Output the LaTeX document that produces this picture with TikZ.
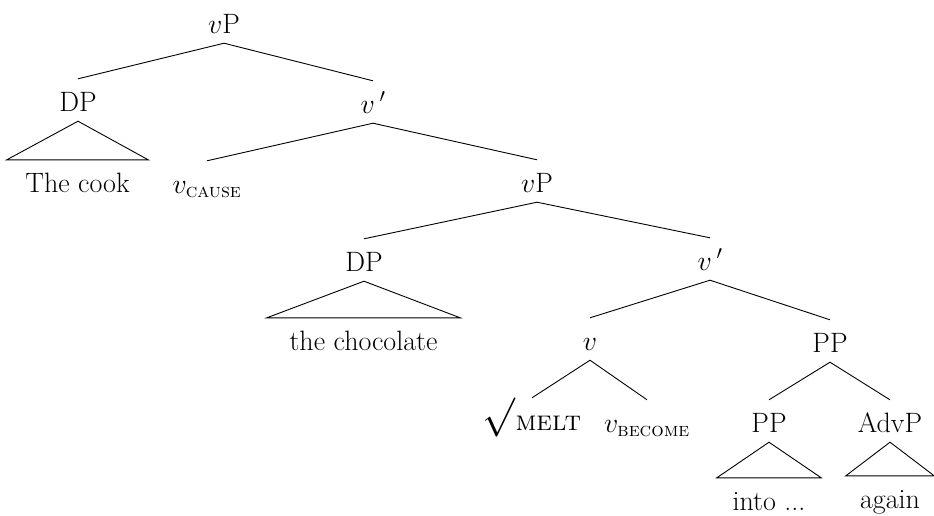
\RequirePackage{fix-cm}
\documentclass[tikz,border=0pt]{standalone}
\usepackage{amsmath}
\begin{document}
\begin{tikzpicture}[x=1pt,y=-1pt,
  lab/.style={font=\fontsize{28}{34}\selectfont, anchor=base, inner xsep=2pt, inner ysep=4pt, text height=28pt, text depth=6pt},
  edge/.style={line width=0.9pt, line join=miter}]
\useasboundingbox (0,0) rectangle (934,515);
% nodes
\node[lab] (vP) at (224,33) {$v$P};
\node[lab] (DP) at (78,111) {DP};
\node[lab] (vbar) at (373,113) {$v\,'$};
\node[lab, minimum width=141pt] (cook) at (77.5,192) {The cook};
\node[lab] (vcause) at (207,193) {$v_{\text{\textsc{cause}}}$};
\node[lab] (vP2) at (537,192) {$v$P};
\node[lab] (DP2) at (364,271) {DP};
\node[lab] (vbar2) at (710,270) {$v\,'$};
\node[lab, minimum width=193pt] (choc) at (363.5,350) {the chocolate};
\node[lab] (v) at (590,350) {$v$};
\node[lab] (PP) at (830,352) {PP};
\node[lab] (melt) at (532,430) {\raisebox{3pt}{\scalebox{1.4}{$\surd$}}\textsc{melt}};
\node[lab] (vbec) at (647,432) {$v_{\text{\textsc{become}}}$};
\node[lab] (PP2) at (769,432) {PP};
\node[lab] (AdvP) at (890,432) {AdvP};
\node[lab, minimum width=104pt] (into) at (769,510) {into ...};
\node[lab, minimum width=88pt] (again) at (890,508) {again};
% edges
\draw[edge] (DP.north) -- (vP.south) -- (vbar.north);
\draw[edge] (vcause.north) -- (vbar.south) -- (vP2.north);
\draw[edge] (DP2.north) -- (vP2.south) -- (vbar2.north);
\draw[edge] (v.north) -- (vbar2.south) -- (PP.north);
\draw[edge] (melt.north) -- (v.south) -- (vbec.north);
\draw[edge] (PP2.north) -- (PP.south) -- (AdvP.north);
% triangles
\draw[edge] (DP.south) -- (cook.north west) -- (cook.north east) -- cycle;
\draw[edge] (DP2.south) -- (choc.north west) -- (choc.north east) -- cycle;
\draw[edge] (PP2.south) -- (into.north west) -- (into.north east) -- cycle;
\draw[edge] (AdvP.south) -- (again.north west) -- (again.north east) -- cycle;
\end{tikzpicture}
\end{document}
